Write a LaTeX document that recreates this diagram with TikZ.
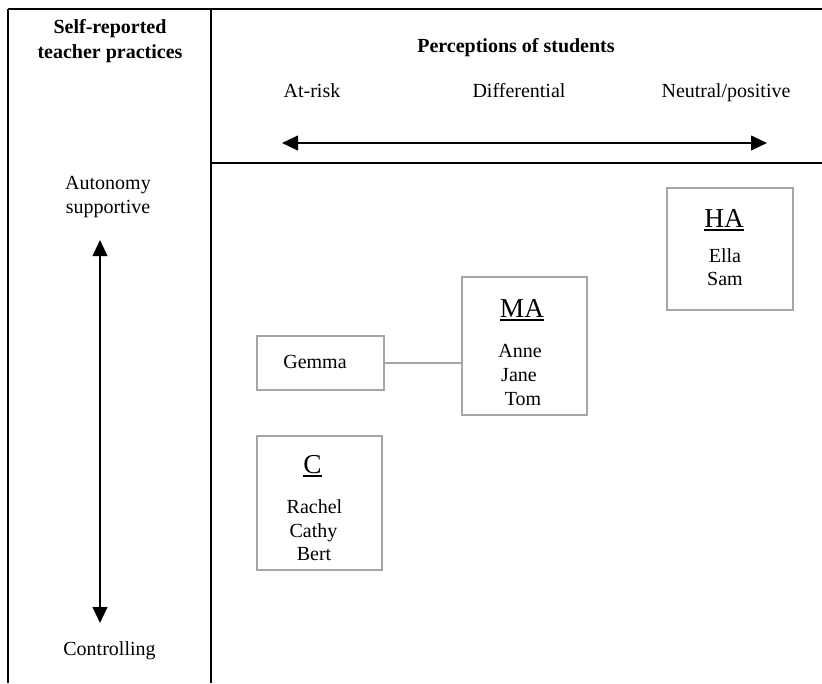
\documentclass[tikz,border=0pt]{standalone}
\usepackage{fontspec}
\setmainfont{Liberation Serif}
\usetikzlibrary{arrows.meta}
\definecolor{boxgray}{HTML}{A6A6A6}
\newcommand\ulbox[1]{\setbox0\hbox{#1}\rlap{\rule[-3.2pt]{\wd0}{1.4pt}}\box0}
\tikzset{
  txt/.style={inner sep=0pt, anchor=base, font=\fontsize{15}{18}\selectfont},
  bold/.style={txt, font=\fontsize{15}{18}\selectfont\bfseries},
  title/.style={inner sep=0pt, anchor=base, font=\fontsize{20.5}{24}\selectfont},
  grp/.style={draw=boxgray, line width=1.5pt, rectangle, inner sep=0pt},
  rule/.style={line width=1.5pt, black},
  thinrule/.style={line width=0.8pt, black},
  axis/.style={line width=1.5pt, {Triangle[length=12pt,width=11pt]}-{Triangle[length=12pt,width=11pt]}},
  link/.style={draw=boxgray, line width=1.5pt}
}
\begin{document}
\begin{tikzpicture}[x=0.75pt, y=-0.75pt]
\useasboundingbox (0,0) rectangle (822,683);
% table frame
\coordinate (tl) at (8,9);
\coordinate (tr) at (822,9);
\coordinate (bl) at (8,683);
\coordinate (mt) at (211,9);
\coordinate (mb) at (211,683);
\coordinate (hl) at (211,163);
\coordinate (hr) at (822,163);
\draw[thinrule] (tl) -- (tr);
\draw[rule] (tl) -- (bl);
\draw[rule] (mt) -- (mb);
\draw[rule] (hl) -- (hr);
% left header
\node[bold] (h1) at (110,33) {Self-reported};
\node[bold] (h2) at (110,58) {teacher practices};
% top header
\node[bold] (p1) at (516,52) {Perceptions of students};
\node[txt] (atrisk) at (312,97) {At-risk};
\node[txt] (diff) at (519,97) {Differential};
\node[txt] (neutral) at (726,97) {Neutral/positive};
\coordinate (axl) at (282,143);
\coordinate (axr) at (767,143);
\draw[axis] (axl) -- (axr);
% left axis
\node[txt] (auto1) at (108,189) {Autonomy};
\node[txt] (auto2) at (108,213) {supportive};
\coordinate (avt) at (100,240);
\coordinate (avb) at (100,623);
\draw[axis] (avt) -- (avb);
\node[txt] (ctrl) at (109.5,655) {Controlling};
% boxes
\node[grp, minimum width=126*0.75pt, minimum height=122*0.75pt] (ha) at (730,249) {};
\node[title] (hat) at (724,227) {\ulbox{HA}};
\node[txt] (ella) at (725,262) {Ella};
\node[txt] (sam) at (725,285) {Sam};

\node[grp, minimum width=125*0.75pt, minimum height=138*0.75pt] (ma) at (524.5,346) {};
\node[title] (mat) at (522,317) {\ulbox{MA}};
\node[txt] (anne) at (520,357) {Anne};
\node[txt] (jane) at (519,381) {Jane};
\node[txt] (tom) at (523,405) {Tom};

\node[grp, minimum width=127*0.75pt, minimum height=54*0.75pt] (gemma) at (320.5,363) {};
\node[txt] (gemmat) at (315,368) {Gemma};
\draw[link] (gemma.east) -- (gemma.east -| ma.west);

\node[grp, minimum width=125*0.75pt, minimum height=134*0.75pt] (c) at (319.5,503) {};
\node[title] (ct) at (312.5,473) {\ulbox{C}};
\node[txt] (rachel) at (314.5,513) {Rachel};
\node[txt] (cathy) at (313.5,537) {Cathy};
\node[txt] (bert) at (314,560) {Bert};
\end{tikzpicture}
\end{document}
